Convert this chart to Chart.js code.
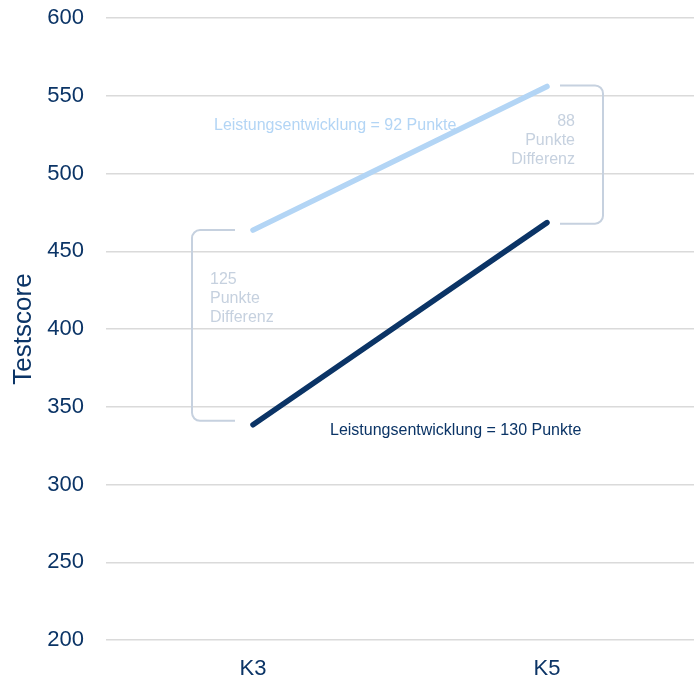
<!DOCTYPE html>
<html>
<head>
<meta charset="utf-8">
<script src="https://cdn.jsdelivr.net/npm/chart.js@4"></script>
<style>
  html, body { margin: 0; padding: 0; background: #fff; }
  #wrap { width: 694px; height: 681px; }
</style>
</head>
<body>
<div id="wrap"><canvas id="c" width="694" height="681"></canvas></div>
<script>
// Klassenstufen und Testscores der beiden Gruppen
const grades = ['K3', 'K5'];
const upperGroup = [463.6, 556.0];
const lowerGroup = [338.4, 468.4];
const yTicks = [200, 250, 300, 350, 400, 450, 500, 550, 600];

const NAVY = '#0b3466';
const LIGHT = '#b3d5f5';
const GREY = '#c6d1df';
const FONT = '"Liberation Sans", Arial, sans-serif';

// Klammern, Differenzen und Entwicklungstexte
const notes = {
  id: 'notes',
  afterDatasetsDraw(chart) {
    const { ctx, scales: { x, y } } = chart;
    const x3 = x.getPixelForValue(0), x5 = x.getPixelForValue(1);

    function bracket(xEnd, xSpine, yTop, yBot) {
      const r = 8;
      ctx.save();
      ctx.strokeStyle = GREY;
      ctx.lineWidth = 2;
      ctx.beginPath();
      ctx.moveTo(xEnd, yTop);
      ctx.arcTo(xSpine, yTop, xSpine, yBot, r);
      ctx.arcTo(xSpine, yBot, xEnd, yBot, r);
      ctx.lineTo(xEnd, yBot);
      ctx.stroke();
      ctx.restore();
    }

    function lines(texts, px, py, align, color, size, gap) {
      ctx.save();
      ctx.fillStyle = color;
      ctx.font = size + 'px ' + FONT;
      ctx.textAlign = align;
      ctx.textBaseline = 'middle';
      texts.forEach((t, i) => ctx.fillText(t, px, py + i * gap));
      ctx.restore();
    }

    const u3 = y.getPixelForValue(upperGroup[0]), u5 = y.getPixelForValue(upperGroup[1]);
    const l3 = y.getPixelForValue(lowerGroup[0]), l5 = y.getPixelForValue(lowerGroup[1]);

    // K3: Abstand zwischen den Gruppen
    const d3 = Math.round(upperGroup[0] - lowerGroup[0]);
    bracket(x3 - 18, x3 - 61, u3, l3 - 4);
    lines([String(d3), 'Punkte', 'Differenz'], x3 - 43, u3 + 49, 'left', GREY, 16, 19);

    // K5: Abstand zwischen den Gruppen
    const d5 = Math.round(upperGroup[1] - lowerGroup[1]);
    bracket(x5 + 13, x5 + 56, u5 - 1, l5 + 1);
    lines([String(d5), 'Punkte', 'Differenz'], x5 + 28, u5 + 35, 'right', GREY, 16, 19);

    // Leistungsentwicklung je Gruppe
    const g1 = Math.round(upperGroup[1] - upperGroup[0]);
    const g2 = Math.round(lowerGroup[1] - lowerGroup[0]);
    lines(['Leistungsentwicklung = ' + g1 + ' Punkte'], x3 - 39, u3 - 105, 'left', LIGHT, 16, 0);
    lines(['Leistungsentwicklung = ' + g2 + ' Punkte'], x3 + 77, l3 + 6, 'left', NAVY, 16, 0);
  }
};

new Chart(document.getElementById('c'), {
  type: 'line',
  data: {
    labels: grades,
    datasets: [
      { data: upperGroup, borderColor: LIGHT, borderWidth: 5.5, borderCapStyle: 'round', pointRadius: 0, tension: 0 },
      { data: lowerGroup, borderColor: NAVY, borderWidth: 5.5, borderCapStyle: 'round', pointRadius: 0, tension: 0 }
    ]
  },
  options: {
    responsive: false,
    animation: false,
    layout: { padding: { top: 18, right: 0, left: 0, bottom: 0 } },
    plugins: { legend: { display: false }, tooltip: { enabled: false } },
    scales: {
      x: {
        offset: true,
        grid: { display: false },
        border: { display: false },
        ticks: { color: NAVY, font: { family: FONT, size: 22 }, padding: 8 },
        afterFit(s) { s.height = 41; }
      },
      y: {
        min: 200, max: 600,
        afterBuildTicks(s) { s.ticks = yTicks.map(v => ({ value: v })); },
        grid: { color: '#dadada', lineWidth: 1.5, drawTicks: false },
        border: { display: false },
        ticks: { color: NAVY, font: { family: FONT, size: 22 }, padding: 22 },
        title: { display: true, text: 'Testscore', color: NAVY, font: { family: FONT, size: 26 }, padding: { top: 8, bottom: 0 } },
        afterFit(s) { s.width = 106; s.paddingTop = 0; s.paddingBottom = 0; }
      }
    }
  },
  plugins: [notes]
});
</script>
</body>
</html>
